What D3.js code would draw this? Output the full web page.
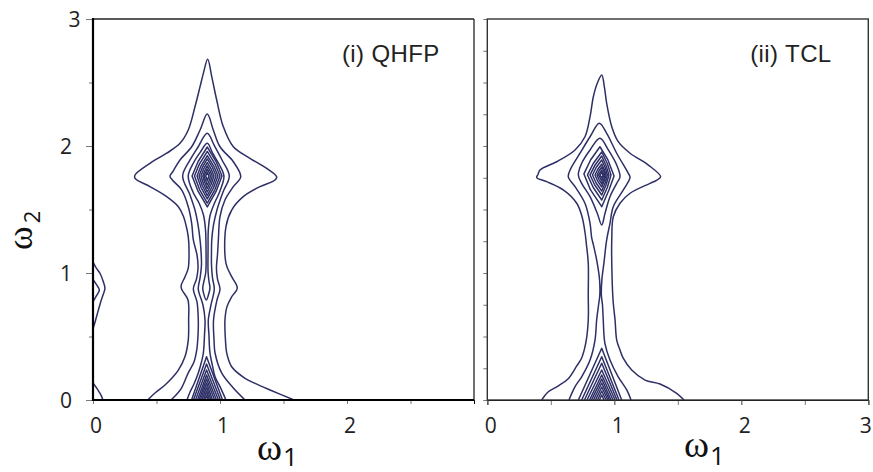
<!DOCTYPE html>
<html><head><meta charset="utf-8">
<script src="https://cdn.jsdelivr.net/npm/d3@7"></script>
<style>
html,body{margin:0;padding:0;background:#fff;}
svg{display:block;}
</style></head><body>
<svg id="chart" width="873" height="472"></svg>
<script>
// ================= DATA (values in data units: [omega1, omega2]) =================
const majorTicks = [0, 1, 2, 3];
const halfTicks = [0, 0.5, 1, 1.5, 2, 2.5, 3];
const quarterTicks = [0, 0.25, 0.5, 0.75, 1, 1.25, 1.5, 1.75, 2, 2.25, 2.5, 2.75, 3];
const panelTitles = ["(i) QHFP", "(ii) TCL"];
const xTitle = ["\u03c9", "1"];
const yTitle = ["\u03c9", "2"];

// ---- (i) QHFP : contours open at omega2 = 0 ----
const qhfpL1 = [[0.431,0],[0.488,0.055],[0.567,0.118],[0.620,0.171],[0.672,0.236],[0.724,0.341],[0.750,0.472],[0.753,0.630],[0.748,0.787],[0.693,0.890],[0.724,0.969],[0.750,1.039],[0.756,1.181],[0.750,1.286],[0.732,1.378],[0.711,1.449],[0.672,1.522],[0.580,1.601],[0.449,1.680],[0.331,1.746],[0.331,1.772],[0.449,1.864],[0.580,1.943],[0.685,2.021],[0.750,2.126],[0.803,2.309],[0.843,2.467],[0.869,2.572],[0.903,2.683],[0.935,2.546],[0.974,2.362],[1.026,2.152],[1.105,1.994],[1.236,1.903],[1.368,1.824],[1.446,1.758],[1.433,1.732],[1.315,1.680],[1.183,1.601],[1.092,1.496],[1.047,1.365],[1.047,1.076],[1.092,0.971],[1.136,0.880],[1.092,0.813],[1.055,0.735],[1.039,0.630],[1.043,0.472],[1.053,0.370],[1.092,0.262],[1.197,0.171],[1.276,0.131],[1.394,0.079],[1.583,0]];
const qhfpL2 = [[0.614,0],[0.646,0.031],[0.693,0.087],[0.750,0.213],[0.795,0.299],[0.817,0.394],[0.827,0.512],[0.829,0.630],[0.819,0.772],[0.790,0.874],[0.815,0.953],[0.827,1.039],[0.819,1.142],[0.790,1.260],[0.777,1.391],[0.750,1.522],[0.698,1.654],[0.627,1.730],[0.606,1.762],[0.630,1.800],[0.685,1.890],[0.777,1.994],[0.843,2.126],[0.900,2.252],[0.947,2.126],[1.000,1.994],[1.105,1.876],[1.163,1.758],[1.105,1.680],[1.039,1.575],[1.000,1.443],[0.987,1.260],[0.980,1.142],[0.972,1.039],[0.980,0.953],[1.000,0.874],[0.976,0.787],[0.949,0.630],[0.953,0.472],[0.961,0.370],[1.013,0.213],[1.105,0.094],[1.197,0]];
const qhfpL3 = [[0.740,0],[0.764,0.063],[0.795,0.126],[0.829,0.213],[0.854,0.299],[0.869,0.370],[0.878,0.512],[0.882,0.630],[0.866,0.748],[0.829,0.874],[0.843,0.961],[0.854,1.063],[0.850,1.181],[0.843,1.260],[0.827,1.378],[0.803,1.496],[0.764,1.614],[0.706,1.764],[0.764,1.890],[0.827,1.992],[0.900,2.100],[0.953,2.008],[1.016,1.890],[1.073,1.764],[1.024,1.638],[0.976,1.496],[0.949,1.378],[0.935,1.260],[0.933,1.181],[0.933,1.063],[0.941,0.961],[0.955,0.874],[0.929,0.748],[0.908,0.630],[0.913,0.512],[0.921,0.370],[0.941,0.268],[0.961,0.183],[1.000,0.105],[1.047,0]];
// closed contour joining the main peak and the small peak at omega2 ~ 0.87
const qhfpL4 = [[0.892,0.787],[0.870,0.843],[0.864,0.882],[0.874,0.937],[0.888,1.008],[0.890,1.181],[0.886,1.339],[0.870,1.457],[0.835,1.551],[0.787,1.638],[0.750,1.764],[0.795,1.874],[0.846,1.953],[0.900,2.021],[0.941,1.945],[0.992,1.858],[1.031,1.764],[1.000,1.646],[0.957,1.551],[0.921,1.449],[0.908,1.339],[0.906,1.181],[0.906,1.008],[0.913,0.937],[0.921,0.882],[0.911,0.835]];
// nested closed contours around the main peak
const qhfpCore = [
  [[0.900,1.992],[0.969,1.878],[1.016,1.764],[0.969,1.642],[0.900,1.520],[0.828,1.642],[0.780,1.764],[0.828,1.878]],
  [[0.900,1.957],[0.960,1.860],[1.000,1.764],[0.960,1.657],[0.900,1.551],[0.839,1.657],[0.799,1.764],[0.839,1.860]],
  [[0.900,1.925],[0.950,1.844],[0.984,1.764],[0.950,1.673],[0.900,1.583],[0.851,1.673],[0.819,1.764],[0.851,1.844]],
  [[0.900,1.898],[0.941,1.831],[0.969,1.764],[0.941,1.687],[0.900,1.610],[0.861,1.687],[0.835,1.764],[0.861,1.831]],
  [[0.900,1.870],[0.931,1.817],[0.953,1.764],[0.931,1.701],[0.900,1.638],[0.870,1.701],[0.850,1.764],[0.870,1.817]],
  [[0.900,1.843],[0.923,1.803],[0.939,1.764],[0.923,1.715],[0.900,1.665],[0.879,1.715],[0.865,1.764],[0.879,1.803]],
  [[0.900,1.819],[0.915,1.791],[0.925,1.764],[0.915,1.728],[0.900,1.693],[0.886,1.728],[0.876,1.764],[0.886,1.791]],
  [[0.900,1.795],[0.912,1.764],[0.900,1.724],[0.888,1.764]]
];
// nested half-contours of the peak sitting on omega2 = 0
const qhfpBase = [
  [[0.776,0],[0.894,0.341],[1.020,0]],
  [[0.791,0],[0.894,0.283],[1.004,0]],
  [[0.807,0],[0.894,0.236],[0.988,0]],
  [[0.823,0],[0.894,0.197],[0.972,0]],
  [[0.835,0],[0.894,0.165],[0.957,0]],
  [[0.846,0],[0.894,0.134],[0.941,0]],
  [[0.858,0],[0.894,0.102],[0.929,0]],
  [[0.870,0],[0.894,0.071],[0.917,0]],
  [[0.882,0],[0.894,0.039],[0.906,0]]
];
// contours on the omega1 = 0 edge
const qhfpEdge = [
  [[0,1.085],[0.025,1.040],[0.055,0.998],[0.080,0.935],[0.094,0.880],[0.080,0.830],[0.060,0.770],[0.040,0.700],[0.018,0.620],[0,0.560]],
  [[0,0.950],[0.030,0.905],[0.050,0.866],[0.030,0.825],[0,0.775]],
  [[0,0.135],[0.035,0.085],[0.065,0.035],[0.078,0]]
];

// ---- (ii) TCL ----
const tclR1 = [[0.428,0],[0.478,0.063],[0.557,0.110],[0.635,0.165],[0.704,0.268],[0.743,0.331],[0.777,0.457],[0.795,0.630],[0.795,0.827],[0.795,1.076],[0.781,1.220],[0.770,1.315],[0.746,1.443],[0.704,1.549],[0.598,1.654],[0.468,1.719],[0.389,1.752],[0.399,1.776],[0.415,1.811],[0.546,1.876],[0.691,1.969],[0.769,2.073],[0.809,2.231],[0.835,2.388],[0.866,2.494],[0.901,2.559],[0.923,2.457],[0.940,2.336],[0.980,2.152],[1.031,2.034],[1.124,1.943],[1.268,1.850],[1.365,1.758],[1.336,1.732],[1.281,1.706],[1.124,1.628],[1.045,1.549],[0.992,1.443],[0.980,1.260],[0.980,1.076],[0.990,0.787],[1.006,0.630],[1.019,0.472],[1.045,0.394],[1.069,0.331],[1.137,0.236],[1.242,0.157],[1.360,0.126],[1.491,0.053],[1.549,0]];
const tclR2 = [[0.643,0],[0.691,0.105],[0.743,0.183],[0.809,0.315],[0.848,0.472],[0.861,0.630],[0.876,0.748],[0.886,0.827],[0.884,0.945],[0.866,1.076],[0.836,1.220],[0.822,1.276],[0.809,1.391],[0.769,1.549],[0.691,1.680],[0.638,1.756],[0.652,1.811],[0.730,1.943],[0.809,2.073],[0.882,2.179],[0.940,2.100],[1.019,1.943],[1.110,1.785],[1.124,1.754],[1.071,1.654],[0.992,1.522],[0.966,1.391],[0.940,1.260],[0.918,1.076],[0.902,0.945],[0.898,0.827],[0.907,0.748],[0.913,0.630],[0.926,0.446],[0.966,0.315],[1.031,0.183],[1.098,0.079],[1.132,0]];
const tclR3 = [[0.887,2.061],[0.809,1.969],[0.743,1.864],[0.717,1.772],[0.743,1.706],[0.809,1.601],[0.866,1.470],[0.901,1.378],[0.927,1.470],[0.966,1.601],[1.019,1.706],[1.045,1.758],[1.019,1.850],[0.953,1.969]];
const tclCore = [
  [[0.887,1.994],[0.950,1.890],[0.998,1.764],[0.958,1.654],[0.901,1.522],[0.813,1.654],[0.761,1.780],[0.813,1.890]],
  [[0.901,1.953],[0.945,1.862],[0.974,1.772],[0.945,1.673],[0.901,1.575],[0.834,1.673],[0.789,1.772],[0.834,1.862]],
  [[0.901,1.921],[0.935,1.846],[0.958,1.772],[0.935,1.693],[0.901,1.614],[0.846,1.693],[0.809,1.772],[0.846,1.846]],
  [[0.901,1.890],[0.928,1.831],[0.946,1.772],[0.928,1.709],[0.901,1.646],[0.857,1.709],[0.828,1.772],[0.857,1.831]],
  [[0.901,1.858],[0.921,1.815],[0.935,1.772],[0.921,1.724],[0.901,1.677],[0.869,1.724],[0.848,1.772],[0.869,1.815]],
  [[0.901,1.835],[0.917,1.803],[0.927,1.772],[0.917,1.736],[0.901,1.701],[0.879,1.736],[0.864,1.772],[0.879,1.803]],
  [[0.901,1.811],[0.919,1.772],[0.901,1.724],[0.876,1.772]],
  [[0.901,1.791],[0.911,1.772],[0.901,1.748],[0.887,1.772]]
];
const tclBase = [
  [[0.717,0],[0.901,0.407],[1.058,0]],
  [[0.743,0],[0.901,0.341],[1.037,0]],
  [[0.765,0],[0.901,0.289],[1.021,0]],
  [[0.785,0],[0.901,0.236],[1.006,0]],
  [[0.805,0],[0.901,0.197],[0.990,0]],
  [[0.820,0],[0.901,0.165],[0.974,0]],
  [[0.836,0],[0.901,0.134],[0.962,0]],
  [[0.852,0],[0.901,0.102],[0.950,0]],
  [[0.868,0],[0.901,0.071],[0.935,0]],
  [[0.883,0],[0.901,0.039],[0.919,0]]
];

// ================= DRAWING =================
const svg = d3.select("#chart");
const lineColor = "#2d2f66";
const yScale = d3.scaleLinear().domain([0, 3]).range([400, 19]);
const xLeft = d3.scaleLinear().domain([0, 3]).range([93, 474]);
const xRight = d3.scaleLinear().domain([0, 3]).range([487.3, 868.3]);

const defs = svg.append("defs");
[["clipL", xLeft], ["clipR", xRight]].forEach(([id, xs]) => {
  defs.append("clipPath").attr("id", id).append("rect")
    .attr("x", xs(0)).attr("y", yScale(3))
    .attr("width", xs(3) - xs(0)).attr("height", yScale(0) - yScale(3));
});

function drawContours(xs, clipId, groups) {
  const g = svg.append("g").attr("clip-path", `url(#${clipId})`)
    .attr("fill", "none").attr("stroke", lineColor)
    .attr("stroke-width", 1.5).attr("stroke-linejoin", "round");
  const mk = c => d3.line().x(d => xs(d[0])).y(d => yScale(d[1])).curve(c);
  const smoothOpen = mk(d3.curveCatmullRom.alpha(0.5));
  const smoothClosed = mk(d3.curveCatmullRomClosed.alpha(0.5));
  const polyClosed = mk(d3.curveLinearClosed);
  const poly = mk(d3.curveLinear);
  g.selectAll("path.open").data(groups.open).join("path").attr("class", "open").attr("d", smoothOpen);
  g.selectAll("path.sc").data(groups.smoothClosed).join("path").attr("class", "sc").attr("d", smoothClosed);
  g.selectAll("path.pc").data(groups.polyClosed).join("path").attr("class", "pc").attr("d", polyClosed);
  g.selectAll("path.tent").data(groups.tents).join("path").attr("class", "tent").attr("d", poly);
}

drawContours(xLeft, "clipL", {
  open: [qhfpL1, qhfpL2, qhfpL3, ...qhfpEdge],
  smoothClosed: [qhfpL4],
  polyClosed: qhfpCore,
  tents: qhfpBase
});
drawContours(xRight, "clipR", {
  open: [tclR1, tclR2],
  smoothClosed: [tclR3],
  polyClosed: tclCore,
  tents: tclBase
});

const tickColor = "#777";
const labelFont = "'Open Sans', 'DejaVu Sans', sans-serif";
function styleAxis(g) {
  g.select(".domain").remove();
  g.selectAll(".tick line").attr("stroke", tickColor).attr("stroke-width", 1);
  g.selectAll(".tick text").attr("fill", "#222").attr("font-size", 21)
    .attr("font-family", labelFont);
}

// ---- left panel axes ----
const gyL = svg.append("g").attr("transform", `translate(${xLeft(0)},0)`);
gyL.call(d3.axisLeft(yScale).tickValues(halfTicks).tickSize(4).tickFormat(""));
gyL.append("g").call(d3.axisLeft(yScale).tickValues(majorTicks).tickSize(7).tickFormat(d3.format("d")));
styleAxis(gyL);
gyL.selectAll(".tick text").attr("text-anchor", "middle")
  .attr("x", d => d === 3 ? -18.5 : -27).attr("dy", "0.36em");

const gxL = svg.append("g").attr("transform", `translate(0,${yScale(0)})`);
gxL.call(d3.axisBottom(xLeft).tickValues(halfTicks).tickSize(4).tickFormat(""));
gxL.append("g").call(d3.axisBottom(xLeft).tickValues(majorTicks.slice(0, 3)).tickSize(4).tickFormat(d3.format("d")));
styleAxis(gxL);
gxL.selectAll(".tick text").attr("y", 18).attr("dy", "0.71em").attr("dx", 2.5);

// ---- right panel axes ----
const gyR = svg.append("g").attr("transform", `translate(${xRight(0)},0)`);
gyR.call(d3.axisLeft(yScale).tickValues(quarterTicks).tickSize(4).tickFormat(""));
styleAxis(gyR);

const gxR = svg.append("g").attr("transform", `translate(0,${yScale(0)})`);
gxR.call(d3.axisBottom(xRight).tickValues(halfTicks).tickSize(5).tickFormat(""));
gxR.append("g").call(d3.axisBottom(xRight).tickValues(majorTicks).tickSize(5).tickFormat(d3.format("d")));
styleAxis(gxR);
gxR.selectAll(".tick text").attr("y", 18).attr("dy", "0.71em").attr("dx", d => d === 3 ? -3 : 3);

// ---- frames ----
svg.append("line").attr("x1", xLeft(0)).attr("x2", xLeft(3)).attr("y1", yScale(3)).attr("y2", yScale(3))
  .attr("stroke", "#222").attr("stroke-width", 1.4);
svg.append("line").attr("x1", xLeft(3)).attr("x2", xLeft(3)).attr("y1", yScale(3)).attr("y2", yScale(0))
  .attr("stroke", "#333").attr("stroke-width", 1.4);
svg.append("line").attr("x1", xLeft(0) - 1).attr("x2", xLeft(3)).attr("y1", yScale(0)).attr("y2", yScale(0))
  .attr("stroke", "#000").attr("stroke-width", 2.2);
svg.append("line").attr("x1", xLeft(0)).attr("x2", xLeft(0)).attr("y1", yScale(3) - 1).attr("y2", yScale(0) + 1)
  .attr("stroke", "#000").attr("stroke-width", 2.2);
svg.append("rect").attr("x", xRight(0)).attr("y", yScale(3))
  .attr("width", xRight(3) - xRight(0)).attr("height", yScale(0) - yScale(3))
  .attr("fill", "none").attr("stroke", "#333").attr("stroke-width", 1.4);

// ---- panel titles ----
svg.append("text").attr("x", xLeft(1.96)).attr("y", 61.7).text(panelTitles[0])
  .attr("font-family", "'Liberation Sans', Arial, sans-serif").attr("font-size", 24)
  .attr("letter-spacing", 0.4).attr("fill", "#222");
svg.append("text").attr("x", xRight(2.07)).attr("y", 61.7).text(panelTitles[1])
  .attr("font-family", "'Liberation Sans', Arial, sans-serif").attr("font-size", 24)
  .attr("letter-spacing", 0.4).attr("fill", "#222");

// ---- axis titles ----
function omegaTitle(x, y, sub, rotate, subDy) {
  const t = svg.append("text").attr("fill", "#111")
    .attr("transform", rotate ? `translate(${x},${y}) rotate(-90)` : `translate(${x},${y})`);
  t.append("tspan").attr("font-family", "'Liberation Serif', 'DejaVu Serif', serif")
    .attr("font-size", rotate ? 36 : 38).text(xTitle[0]);
  t.append("tspan").attr("font-family", labelFont)
    .attr("font-size", rotate ? 22 : 26).attr("dx", rotate ? 3 : 1).attr("dy", subDy).text(sub);
}
omegaTitle(257, 459.5, xTitle[1], false, 6);
omegaTitle(684, 456.5, xTitle[1], false, 8.5);
omegaTitle(32, 250, yTitle[1], true, 8);
</script>
</body></html>
